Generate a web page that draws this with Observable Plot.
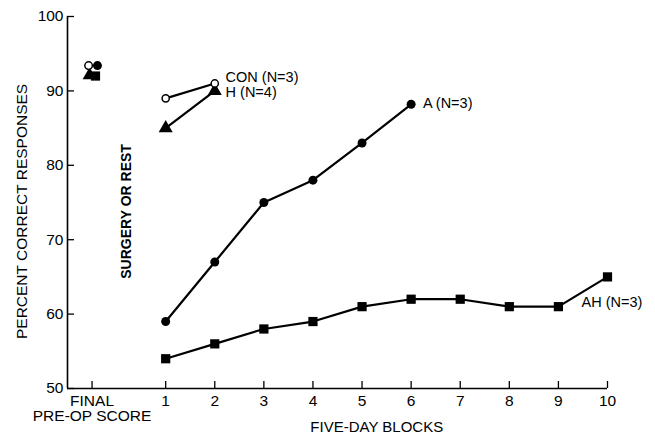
<!DOCTYPE html>
<html>
<head>
<meta charset="utf-8">
<script src="https://cdn.jsdelivr.net/npm/d3@7"></script>
<script src="https://cdn.jsdelivr.net/npm/@observablehq/plot@0.6"></script>
<style>
  html, body { margin: 0; padding: 0; background: #fff; }
  svg { display: block; }
</style>
</head>
<body>
<div id="chart"></div>
<script>
// Data
const blocksA = [1, 2, 3, 4, 5, 6];
const valuesA = [59, 67, 75, 78, 83, 88.2];
const blocksAH = [1, 2, 3, 4, 5, 6, 7, 8, 9, 10];
const valuesAH = [54, 56, 58, 59, 61, 62, 62, 61, 61, 65];
const blocksCON = [1, 2];
const valuesCON = [89, 91];
const blocksH = [1, 2];
const valuesH = [85, 90];
// Final pre-op scores (plotted slightly offset around the "FINAL" tick)
const preopGroups = ["CON", "A", "H", "AH"];
const preopX = [-0.57, -0.39, -0.55, -0.43];
const preopValues = [93.4, 93.4, 92.1, 92.0];

const xTickValues = [-0.5, 1, 2, 3, 4, 5, 6, 7, 8, 9, 10];
const xTickLabels = ["FINAL\nPRE-OP SCORE", "1", "2", "3", "4", "5", "6", "7", "8", "9", "10"];
const yTickValues = [50, 60, 70, 80, 90, 100];

const seriesLabels = ["CON (N=3)", "H (N=4)", "A (N=3)", "AH (N=3)"];

const zip = (xs, ys) => xs.map((x, i) => ({x, y: ys[i]}));
const A = zip(blocksA, valuesA);
const AH = zip(blocksAH, valuesAH);
const CON = zip(blocksCON, valuesCON);
const H = zip(blocksH, valuesH);
const preop = preopGroups.map((g, i) => ({g, x: preopX[i], y: preopValues[i]}));

const labelPts = [
  {t: seriesLabels[0], x: 2.22, y: 91.8},
  {t: seriesLabels[1], x: 2.22, y: 89.8},
  {t: seriesLabels[2], x: 6.24, y: 88.3},
  {t: seriesLabels[3], x: 9.47, y: 61.6}
];

const font = "'Liberation Sans', Arial, Helvetica, sans-serif";

const chart = Plot.plot({
  width: 655,
  height: 435,
  marginLeft: 67,
  marginRight: 48,
  marginTop: 16,
  marginBottom: 47,
  style: {fontFamily: font, fontSize: "14px", color: "#000", background: "#fff"},
  x: {type: "linear", domain: [-1, 10]},
  y: {type: "linear", domain: [50, 100]},
  marks: [
    // axis lines
    Plot.ruleX([-1], {x: d => d, y1: 50, y2: 100, stroke: "#000", strokeWidth: 1.6}),
    Plot.ruleY([50], {y: d => d, x1: -1, x2: 10, stroke: "#000", strokeWidth: 1.6}),
    // y axis: inward ticks + labels
    Plot.ruleY(yTickValues, {y: d => d, x1: -1, x2: -1 + 7 / 49, stroke: "#000", strokeWidth: 1.3}),
    Plot.axisY({ticks: yTickValues, tickSize: 0, tickPadding: 4, label: null, fontSize: 15.5,
      stroke: "#000", strokeWidth: 0.35}),
    Plot.text(["PERCENT CORRECT RESPONSES"], {frameAnchor: "left", textAnchor: "middle", dx: -45, rotate: -90, fontSize: 15.5, y: 73.8, fill: "#000"}),
    // x axis: inward ticks + labels
    Plot.ruleX(xTickValues, {x: d => d, y1: 50, y2: 50 + 7 / 7.44, stroke: "#000", strokeWidth: 1.3}),
    Plot.axisX({ticks: xTickValues, tickSize: 0, tickPadding: 6, label: null, fontSize: 15.5,
      stroke: "#000", strokeWidth: 0.35,
      tickFormat: d => xTickLabels[xTickValues.indexOf(d)], lineHeight: 1.0}),
    Plot.text(["FIVE-DAY BLOCKS"], {x: 5.3, frameAnchor: "bottom", dy: 43, fontSize: 15, fill: "#000"}),
    // annotation
    Plot.text(["SURGERY OR REST"], {x: 0.2, y: 73.8, rotate: -90, fontSize: 14, fontWeight: "bold", fill: "#000"}),
    // lines
    Plot.line(A, {x: "x", y: "y", stroke: "#000", strokeWidth: 2.2}),
    Plot.line(AH, {x: "x", y: "y", stroke: "#000", strokeWidth: 2.2}),
    Plot.line(CON, {x: "x", y: "y", stroke: "#000", strokeWidth: 2.2}),
    Plot.line(H, {x: "x", y: "y", stroke: "#000", strokeWidth: 2.2}),
    // markers
    Plot.dot(A, {x: "x", y: "y", r: 4.5, fill: "#000", stroke: "none"}),
    Plot.dot(AH, {x: "x", y: "y", symbol: "square", r: 5.2, fill: "#000", stroke: "none"}),
    Plot.dot(H, {x: "x", y: "y", symbol: "triangle", r: 5.2, fill: "#000", stroke: "none"}),
    Plot.dot(CON, {x: "x", y: "y", r: 3.6, fill: "#fff", stroke: "#000", strokeWidth: 1.5}),
    // pre-op scores
    Plot.dot(preop.filter(d => d.g === "AH"), {x: "x", y: "y", symbol: "square", r: 5.2, fill: "#000", stroke: "none"}),
    Plot.dot(preop.filter(d => d.g === "H"), {x: "x", y: "y", symbol: "triangle", r: 5.2, fill: "#000", stroke: "none"}),
    Plot.dot(preop.filter(d => d.g === "A"), {x: "x", y: "y", r: 4.5, fill: "#000", stroke: "none"}),
    Plot.dot(preop.filter(d => d.g === "CON"), {x: "x", y: "y", r: 3.8, fill: "#fff", stroke: "#000", strokeWidth: 1.5}),
    // series labels
    Plot.text(labelPts, {x: "x", y: "y", text: "t", textAnchor: "start", fontSize: 14.5, fill: "#000"})
  ]
});
document.getElementById("chart").appendChild(chart);
</script>
</body>
</html>
